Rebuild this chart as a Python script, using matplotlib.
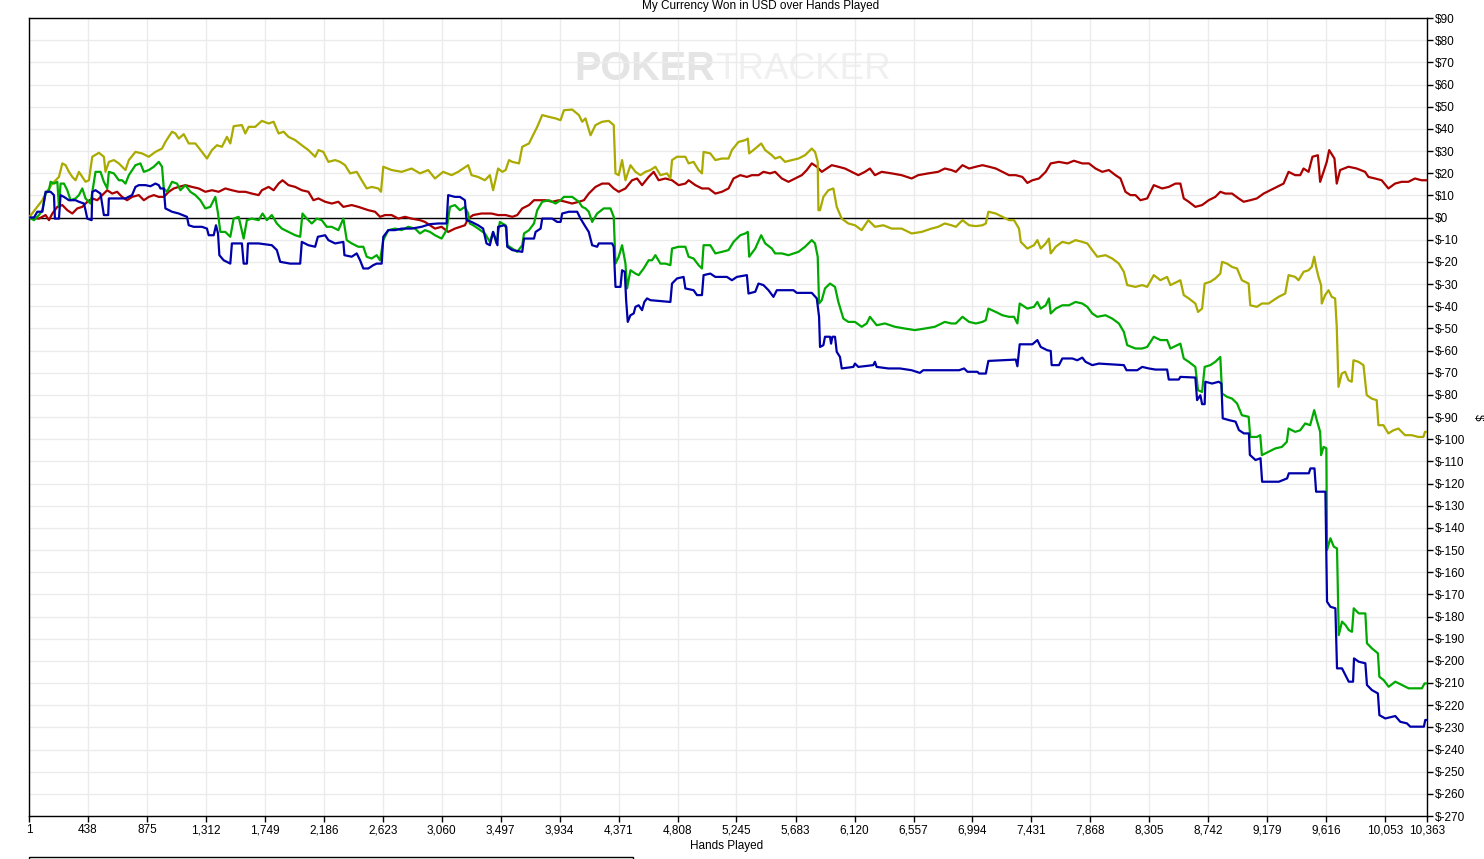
import matplotlib
matplotlib.use("Agg")
import matplotlib.pyplot as plt
from matplotlib.patches import Rectangle

# hands played / dollars won
red_hands = [1, 75, 124, 149, 174, 211, 248, 285, 322, 359, 396, 433, 470, 507, 544, 581, 618, 654, 691, 728,
             765, 815, 852, 889, 926, 963, 1000, 1037, 1074, 1111, 1160, 1209, 1259, 1308, 1357, 1407, 1456, 1505,
             1555, 1604, 1653, 1703, 1727, 1777, 1814, 1851, 1880, 1924, 1974, 2023, 2072, 2109, 2146, 2196, 2245,
             2294, 2331, 2393, 2442, 2516, 2566, 2603, 2640, 2689, 2738, 2788, 2837, 2899, 2936, 2973, 3010, 3059,
             3108, 3158, 3232, 3256, 3293, 3355, 3429, 3478, 3534, 3583, 3620, 3657, 3707, 3744, 3793, 3830, 3879,
             3929, 3978, 4027, 4077, 4114, 4150, 4200, 4249, 4298, 4335, 4372, 4422, 4471, 4508, 4545, 4594, 4631,
             4668, 4718, 4767, 4816, 4866, 4890, 4940, 4989, 5038, 5088, 5137, 5186, 5223, 5273, 5322, 5359, 5408,
             5445, 5494, 5531, 5581, 5630, 5679, 5729, 5766, 5803, 5840, 5877, 5914, 5951, 6000, 6049, 6099, 6148,
             6197, 6234, 6271, 6321, 6395, 6469, 6543, 6592, 6666, 6740, 6789, 6838, 6871, 6920, 6969, 7019, 7068,
             7117, 7167, 7216, 7265, 7315, 7364, 7401, 7438, 7487, 7537, 7574, 7635, 7697, 7746, 7808, 7857, 7906,
             7956, 8005, 8054, 8091, 8128, 8165, 8202, 8239, 8289, 8338, 8400, 8449, 8498, 8535, 8560, 8597, 8646,
             8696, 8745, 8794, 8831, 8868, 8918, 8967, 9004, 9053, 9102, 9152, 9201, 9250, 9300, 9337, 9386, 9423,
             9448, 9485, 9514, 9554, 9571, 9596, 9620, 9638, 9677, 9694, 9719, 9781, 9842, 9904, 9929, 9978, 10027,
             10077, 10126, 10175, 10225, 10274, 10323, 10363]
red_usd = [0, -0.5, 1.1, -1.2, 1.8, 4.8, 5.6, 3.3, 1.8, 4.1, 4.8, 7.1, 8.6, 7.8, 10.1, 12.3, 10.8, 11.6, 9.3, 7.8,
           9.3, 10.1, 7.8, 9.3, 10.1, 9.3, 9.3, 11.6, 13.1, 13.8, 14.6, 13.8, 13.1, 11.6, 12.3, 11.6, 13.1, 12.3,
           11.6, 11.6, 10.8, 10.1, 12.3, 13.8, 12.3, 15.3, 16.8, 14.6, 13.8, 12.3, 11.6, 7.8, 8.6, 7.1, 6.3,
           7.1, 4.8, 5.6, 4.8, 3.3, 2.6, 0.3, 1.1, 1.1, -0.5, 0.3, -0.5, -1.2, -2.0, -3.5, -5.0, -4.2,
           -6.5, -5.0, -3.5, -0.5, 1.1, 1.8, 1.8, 1.1, 1.1, 0.3, 1.1, 4.1, 5.6, 7.8, 7.8, 7.8, 7.1,
           7.8, 7.1, 6.3, 7.1, 7.8, 10.8, 13.8, 15.3, 15.3, 13.1, 11.6, 13.1, 16.8, 17.6, 14.6, 18.3, 20.6,
           16.8, 17.6, 16.8, 14.6, 15.3, 16.8, 14.6, 13.1, 13.1, 10.8, 11.6, 13.1, 17.6, 19.1, 18.3, 19.1, 19.1,
           20.6, 19.9, 20.6, 17.6, 16.1, 17.6, 19.1, 21.4, 24.4, 22.9, 20.6, 22.1, 23.6, 22.9, 22.1, 20.6, 19.1,
           20.6, 22.1, 19.1, 20.6, 19.9, 19.1, 17.6, 19.1, 19.9, 20.6, 22.1, 21.4, 20.6, 23.6, 22.1, 22.9, 23.6,
           22.9, 22.1, 20.6, 19.1, 19.1, 18.3, 15.6, 16.8, 17.6, 20.6, 24.4, 25.1, 24.4, 25.6, 24.4, 24.4, 22.1,
           20.6, 21.4, 19.1, 17.6, 11.6, 10.1, 10.1, 7.8, 8.6, 14.6, 13.1, 13.8, 15.3, 15.3, 8.6, 7.1, 4.8,
           5.6, 7.8, 9.3, 11.6, 10.8, 10.8, 8.6, 7.1, 7.8, 8.6, 10.8, 12.3, 13.8, 15.3, 20.6, 19.1, 19.1,
           22.1, 20.6, 27.4, 28.1, 16.1, 20.6, 25.1, 30.4, 26.6, 15.3, 21.4, 22.9, 22.1, 20.6, 18.3, 17.6, 16.8,
           13.1, 15.3, 16.1, 16.1, 17.6, 16.8, 16.8]

yellow_hands = [1, 100, 124, 174, 198, 223, 248, 272, 297, 322, 346, 371, 396, 420, 445, 470, 519, 556, 568, 593,
                630, 667, 716, 741, 790, 839, 889, 938, 987, 1012, 1061, 1086, 1111, 1148, 1185, 1234, 1283, 1320,
                1357, 1394, 1431, 1468, 1493, 1518, 1579, 1604, 1629, 1678, 1727, 1777, 1814, 1851, 1888, 1924,
                1974, 2023, 2072, 2122, 2146, 2183, 2220, 2270, 2307, 2344, 2381, 2430, 2467, 2504, 2541, 2590,
                2610, 2627, 2689, 2763, 2837, 2899, 2960, 3010, 3071, 3133, 3182, 3256, 3281, 3330, 3380, 3417,
                3441, 3478, 3509, 3534, 3559, 3583, 3633, 3657, 3707, 3731, 3768, 3805, 3855, 3904, 3941, 3966,
                4027, 4077, 4101, 4126, 4163, 4200, 4249, 4298, 4335, 4348, 4372, 4397, 4422, 4459, 4496, 4533,
                4570, 4607, 4644, 4681, 4730, 4755, 4767, 4804, 4866, 4890, 4927, 4964, 4989, 5001, 5051, 5088,
                5137, 5186, 5211, 5260, 5310, 5329, 5339, 5384, 5428, 5458, 5507, 5531, 5568, 5605, 5655, 5704,
                5753, 5803, 5827, 5847, 5852, 5864, 5889, 5926, 5963, 5988, 6025, 6074, 6123, 6173, 6222, 6271,
                6333, 6395, 6469, 6543, 6617, 6690, 6740, 6789, 6838, 6871, 6920, 6969, 7019, 7068, 7093, 7112,
                7167, 7216, 7265, 7302, 7339, 7352, 7401, 7450, 7475, 7500, 7537, 7561, 7574, 7611, 7660, 7709,
                7758, 7808, 7845, 7882, 7919, 7980, 8030, 8079, 8116, 8141, 8202, 8252, 8289, 8338, 8387, 8437,
                8461, 8511, 8535, 8560, 8597, 8646, 8666, 8696, 8715, 8757, 8794, 8831, 8844, 8881, 8918, 8955,
                8991, 9041, 9053, 9102, 9139, 9189, 9226, 9263, 9312, 9337, 9386, 9411, 9448, 9485, 9509, 9527,
                9541, 9559, 9578, 9583, 9608, 9633, 9657, 9682, 9694, 9707, 9731, 9756, 9781, 9805, 9818, 9855,
                9892, 9916, 9953, 9990, 10003, 10040, 10077, 10114, 10151, 10200, 10249, 10299, 10336, 10348, 10363]
yellow_usd = [0, 7.8, 10.8, 15.3, 16.8, 18.3, 24.4, 23.6, 20.6, 18.3, 16.8, 20.6, 18.3, 16.1, 16.8, 27.4, 29.2,
              27.4, 20.6, 25.1, 25.9, 24.4, 21.4, 25.9, 29.6, 28.9, 27.4, 29.6, 31.1, 34.1, 38.7, 37.9, 35.6,
              37.6, 33.4, 33.4, 29.6, 26.6, 30.4, 32.6, 31.9, 36.4, 33.4, 41.2, 41.7, 37.9, 40.9, 40.9, 43.6,
              42.4, 43.2, 37.9, 38.7, 36.4, 34.9, 32.6, 30.4, 27.4, 30.4, 29.6, 25.1, 25.9, 25.1, 23.6, 19.9,
              20.6, 16.8, 13.1, 13.8, 13.1, 11.6, 22.9, 21.4, 20.6, 22.1, 19.9, 21.4, 17.6, 20.6, 19.1, 20.6,
              23.6, 19.1, 18.3, 16.8, 19.1, 12.3, 22.1, 20.6, 21.4, 25.9, 25.1, 24.4, 31.9, 33.4, 36.4, 40.9,
              46.2, 45.4, 44.7, 43.9, 48.4, 48.7, 46.2, 43.2, 44.7, 37.1, 41.7, 43.2, 43.6, 41.7, 19.9, 19.1,
              25.9, 16.8, 23.6, 20.6, 19.1, 20.6, 21.4, 22.9, 19.1, 19.9, 17.6, 25.9, 27.4, 27.4, 24.4, 25.1,
              21.4, 19.9, 29.6, 28.9, 25.9, 26.6, 26.6, 30.4, 34.1, 34.9, 35.6, 28.9, 31.1, 33.4, 30.4, 28.1,
              26.6, 27.4, 25.1, 25.9, 26.6, 28.1, 31.1, 29.6, 25.1, 3.3, 3.3, 9.3, 12.3, 13.1, 4.8, -0.5, -2.7,
              -3.5, -5.7, -1.2, -4.2, -3.5, -5.0, -5.0, -7.2, -6.5, -5.0, -4.2, -2.7, -3.5, -4.2, -1.2, -3.5,
              -3.9, -3.5, -2.7, 2.6, 1.8, 0.3, -1.2, -1.2, -5.0, -11.0, -14.0, -12.5, -10.2, -14.0, -11.7, -9.5,
              -16.2, -13.2, -11.0, -11.7, -10.2, -11.0, -11.7, -14.7, -17.7, -17.0, -18.5, -20.8, -24.5, -30.5,
              -31.3, -30.5, -31.3, -26.0, -28.3, -26.8, -30.5, -29.0, -28.3, -35.0, -36.5, -38.8, -42.6, -41.1,
              -29.8, -29.0, -27.5, -25.3, -20.0, -20.8, -22.3, -23.0, -28.3, -29.8, -39.6, -40.3, -38.8, -38.8,
              -37.3, -35.8, -34.3, -26.0, -26.8, -28.3, -24.5, -23.8, -22.3, -17.7, -22.3, -26.8, -30.5, -38.8,
              -35.0, -32.8, -35.8, -36.5, -49.3, -76.4, -70.4, -69.6, -73.4, -74.1, -64.4, -65.1, -66.6, -80.1,
              -81.7, -82.4, -93.7, -93.7, -97.4, -96.0, -95.2, -98.2, -98.2, -99.0, -99.0, -96.7, -96.7]

green_hands = [1, 38, 75, 100, 124, 149, 161, 186, 211, 223, 235, 260, 285, 309, 346, 371, 396, 420, 457, 482,
               494, 531, 556, 581, 593, 630, 667, 691, 716, 741, 790, 827, 852, 889, 926, 963, 987, 1000, 1024,
               1061, 1098, 1123, 1160, 1197, 1234, 1271, 1308, 1345, 1382, 1402, 1419, 1456, 1493, 1518, 1555,
               1592, 1616, 1653, 1703, 1732, 1764, 1801, 1838, 1875, 1924, 1974, 2011, 2028, 2060, 2097, 2134,
               2171, 2208, 2245, 2294, 2331, 2356, 2393, 2442, 2479, 2504, 2541, 2578, 2603, 2627, 2664, 2714,
               2763, 2812, 2862, 2899, 2936, 2973, 3010, 3059, 3096, 3121, 3158, 3195, 3232, 3256, 3268, 3293,
               3330, 3380, 3417, 3441, 3466, 3491, 3509, 3534, 3546, 3583, 3620, 3657, 3670, 3707, 3744, 3768,
               3805, 3855, 3904, 3941, 3966, 4027, 4077, 4101, 4126, 4150, 4175, 4212, 4261, 4311, 4335, 4348,
               4372, 4397, 4422, 4434, 4459, 4496, 4520, 4557, 4594, 4619, 4644, 4681, 4718, 4755, 4767, 4816,
               4866, 4890, 4927, 4964, 4989, 5001, 5051, 5088, 5137, 5186, 5223, 5273, 5310, 5329, 5339, 5384,
               5428, 5458, 5507, 5531, 5581, 5630, 5704, 5753, 5803, 5827, 5847, 5857, 5877, 5901, 5938, 5975,
               6000, 6037, 6074, 6123, 6173, 6210, 6234, 6284, 6345, 6419, 6493, 6567, 6641, 6715, 6789, 6838,
               6871, 6920, 6969, 7019, 7068, 7093, 7112, 7167, 7216, 7265, 7302, 7327, 7344, 7401, 7450, 7475,
               7500, 7537, 7561, 7574, 7611, 7660, 7709, 7758, 7808, 7845, 7882, 7919, 7980, 8030, 8079, 8116,
               8141, 8202, 8252, 8289, 8338, 8387, 8437, 8461, 8511, 8535, 8560, 8597, 8646, 8666, 8696, 8715,
               8757, 8794, 8831, 8844, 8881, 8918, 8955, 8991, 9041, 9053, 9102, 9127, 9139, 9189, 9238, 9287,
               9324, 9337, 9386, 9423, 9460, 9497, 9527, 9546, 9571, 9578, 9596, 9617, 9622, 9647, 9672, 9696,
               9709, 9733, 9758, 9783, 9807, 9820, 9857, 9906, 9918, 9955, 9999, 10010, 10042, 10079, 10128,
               10177, 10227, 10276, 10325, 10345, 10363]
green_usd = [0, -1.2, 1.1, 3.3, 10.8, 12.3, 16.1, 15.3, 16.1, 4.8, 15.3, 15.3, 12.3, 7.8, 8.6, 10.1, 13.1, 8.6,
             6.3, 16.1, 20.6, 20.6, 16.1, 13.1, 20.6, 19.9, 16.8, 16.8, 15.3, 19.1, 23.6, 24.4, 20.6, 21.4, 22.9,
             25.1, 22.9, 13.1, 11.6, 16.1, 15.3, 12.3, 14.6, 11.6, 10.1, 7.8, 4.1, 4.8, 9.3, 1.8, -6.5, -6.5,
             -8.7, -0.5, 0.3, -9.5, -1.2, -0.5, -1.2, 1.8, -1.2, 1.1, -2.7, -5.0, -6.5, -8.0, -8.7, 1.8, -0.5,
             -2.7, -0.5, -1.2, -4.2, -4.2, -5.7, -0.5, -10.2, -11.7, -13.2, -13.2, -17.7, -18.5, -17.0, -19.3,
             -10.2, -5.7, -5.0, -5.7, -4.2, -5.0, -7.2, -5.7, -6.5, -8.0, -9.5, -5.7, 4.8, 5.6, 3.3, 4.8, 1.8,
             -2.7, -3.5, -5.0, -7.2, -11.0, -6.5, -11.7, -2.0, -2.7, -3.5, -12.5, -14.0, -15.5, -12.5, -7.2,
             -5.7, -2.7, 3.3, 7.1, 7.8, 6.3, 7.8, 9.3, 9.3, 7.1, 4.8, 4.1, 2.6, -2.0, 1.8, 4.1, 4.1, 0.3,
             -20.8, -17.7, -12.5, -20.8, -32.0, -23.8, -25.3, -26.0, -23.0, -19.3, -19.3, -17.0, -20.8, -20.8,
             -21.5, -14.0, -13.2, -13.2, -17.7, -18.5, -21.5, -23.0, -12.5, -12.5, -16.2, -15.5, -14.7, -11.0,
             -8.0, -7.2, -6.5, -17.7, -14.0, -8.0, -11.7, -14.0, -16.2, -16.2, -17.0, -15.5, -13.2, -10.2,
             -11.7, -17.7, -38.8, -37.3, -32.0, -29.8, -31.3, -38.1, -45.6, -47.1, -47.1, -49.3, -47.8, -44.8,
             -48.6, -47.8, -49.3, -50.1, -50.8, -50.1, -49.3, -47.1, -47.8, -47.8, -44.8, -47.1, -47.8, -47.1,
             -46.3, -41.1, -42.6, -44.1, -44.8, -44.8, -47.8, -38.8, -41.1, -40.3, -38.1, -41.1, -39.6, -36.5,
             -43.3, -41.1, -39.6, -39.6, -38.1, -38.8, -40.3, -43.3, -44.8, -44.1, -45.6, -47.8, -51.6, -57.6,
             -59.1, -59.1, -58.4, -53.8, -55.3, -55.3, -59.1, -57.6, -56.9, -63.6, -65.1, -67.4, -77.9, -78.7,
             -67.4, -66.6, -65.1, -62.9, -79.4, -80.9, -81.7, -83.9, -89.2, -89.9, -99.0, -99.0, -98.2, -107.2,
             -105.7, -104.2, -103.5, -101.2, -95.2, -96.7, -96.0, -92.9, -93.7, -86.9, -91.4, -96.7, -107.2,
             -103.5, -104.1, -150.0, -144.7, -148.5, -149.3, -188.4, -182.3, -183.8, -186.1, -186.9, -176.3,
             -178.6, -178.6, -192.1, -194.4, -196.6, -207.2, -208.7, -211.7, -209.4, -210.9, -212.4, -212.4,
             -212.4, -210.2, -210.2]

blue_hands = [1, 38, 63, 100, 124, 161, 186, 193, 223, 235, 260, 297, 346, 371, 408, 420, 433, 465, 470, 494,
              531, 556, 588, 593, 642, 716, 765, 790, 815, 864, 901, 938, 963, 975, 1000, 1012, 1061, 1111, 1172,
              1185, 1222, 1283, 1320, 1333, 1370, 1387, 1402, 1412, 1444, 1493, 1505, 1579, 1592, 1616, 1624,
              1703, 1801, 1838, 1863, 1937, 2011, 2023, 2072, 2122, 2142, 2196, 2220, 2270, 2331, 2339, 2393,
              2430, 2455, 2479, 2516, 2553, 2578, 2615, 2627, 2664, 2714, 2763, 2837, 2911, 2973, 3034, 3096,
              3108, 3158, 3195, 3232, 3244, 3281, 3330, 3367, 3392, 3417, 3441, 3473, 3478, 3522, 3539, 3546,
              3583, 3657, 3670, 3744, 3756, 3793, 3805, 3879, 3916, 3941, 3953, 4003, 4064, 4089, 4126, 4150,
              4175, 4212, 4224, 4323, 4335, 4348, 4385, 4397, 4417, 4427, 4439, 4459, 4483, 4496, 4520, 4545,
              4562, 4582, 4607, 4755, 4767, 4804, 4853, 4866, 4927, 4952, 4989, 5001, 5051, 5088, 5174, 5211,
              5248, 5322, 5334, 5384, 5408, 5445, 5482, 5519, 5544, 5667, 5692, 5803, 5840, 5857, 5864, 5889,
              5901, 5938, 5946, 5956, 5975, 5988, 6012, 6025, 6111, 6123, 6148, 6259, 6271, 6284, 6370, 6456,
              6543, 6604, 6629, 6895, 6932, 6957, 7031, 7043, 7093, 7112, 7216, 7315, 7327, 7344, 7438, 7475,
              7500, 7549, 7574, 7581, 7635, 7660, 7734, 7771, 7808, 7832, 7882, 7931, 8005, 8116, 8136, 8215,
              8252, 8301, 8350, 8437, 8449, 8523, 8535, 8646, 8659, 8683, 8696, 8715, 8720, 8770, 8819, 8839,
              8849, 8895, 8944, 8969, 9006, 9043, 9050, 9092, 9129, 9141, 9265, 9326, 9339, 9487, 9499, 9529,
              9541, 9610, 9622, 9647, 9684, 9696, 9733, 9758, 9783, 9815, 9822, 9857, 9906, 9918, 9955, 9999,
              10010, 10054, 10128, 10165, 10214, 10239, 10340, 10350, 10363]
blue_usd = [0, 0, 2.6, 2.6, 11.6, 11.6, 10.1, -0.5, -0.5, 10.1, 9.3, 7.8, 7.8, 7.1, 6.3, 3.3, -0.5, -1.2, 11.6,
            12.3, 10.8, 1.1, 1.1, 8.6, 8.6, 8.6, 10.1, 13.8, 14.6, 14.6, 14.1, 15.3, 14.6, 13.1, 13.1, 4.1, 2.6,
            1.8, 0.3, -3.5, -4.2, -4.2, -5.0, -8.0, -8.0, -3.5, -7.2, -17.0, -19.3, -20.8, -11.7, -11.7, -20.8,
            -20.8, -11.7, -11.7, -12.5, -14.7, -20.0, -20.8, -20.8, -11.0, -12.5, -13.2, -8.7, -8.0, -10.2,
            -11.7, -11.0, -17.0, -17.7, -16.2, -19.3, -23.0, -23.0, -21.5, -20.8, -20.8, -8.7, -5.7, -5.7,
            -5.0, -5.0, -4.2, -3.0, -2.7, -2.7, 10.1, 9.3, 9.3, 7.8, -1.2, -2.0, -3.5, -5.0, -11.7, -12.5,
            -6.5, -12.5, -4.2, -3.5, -4.2, -13.2, -14.7, -15.5, -9.5, -9.5, -6.5, -5.0, -0.5, -0.5, -2.0,
            -2.0, 1.8, 2.6, 2.6, -0.5, -4.2, -6.5, -12.5, -13.2, -11.7, -11.7, -13.2, -31.3, -31.3, -23.8,
            -24.5, -37.3, -47.1, -44.1, -43.3, -40.3, -39.6, -41.8, -38.1, -36.5, -37.3, -38.1, -29.8, -27.5,
            -26.8, -32.0, -32.8, -35.0, -35.0, -26.0, -25.3, -26.8, -26.8, -28.3, -26.8, -26.0, -34.3, -33.5,
            -29.8, -30.5, -32.8, -35.8, -32.8, -32.8, -34.0, -34.0, -36.5, -44.8, -58.4, -57.6, -53.8, -53.8,
            -56.9, -53.8, -53.8, -60.6, -62.9, -68.1, -67.4, -65.9, -67.4, -66.6, -65.1, -67.4, -68.1, -68.1,
            -68.9, -70.1, -68.9, -68.9, -68.1, -69.6, -69.6, -70.4, -70.4, -64.7, -64.4, -64.1, -67.1, -57.2,
            -57.2, -55.3, -58.4, -59.9, -60.2, -66.6, -66.6, -63.6, -63.6, -64.4, -63.2, -65.1, -66.6, -65.9,
            -66.2, -66.6, -68.9, -68.9, -67.4, -68.1, -68.6, -68.6, -73.1, -73.1, -71.9, -72.2, -82.4, -80.2,
            -84.2, -84.2, -74.1, -74.9, -74.1, -74.9, -90.6, -91.4, -92.1, -95.9, -97.4, -97.4, -107.1, -109.4,
            -108.6, -119.2, -119.2, -117.7, -115.4, -115.4, -113.2, -113.2, -123.7, -123.7, -173.3, -175.6,
            -176.3, -203.4, -203.4, -206.4, -209.4, -209.4, -198.9, -200.4, -201.1, -210.9, -213.2, -214.7,
            -224.5, -226.0, -224.9, -227.5, -228.2, -229.7, -229.7, -226.7, -226.7]

x_ticks = [1, 438, 875, 1312, 1749, 2186, 2623, 3060, 3497, 3934, 4371, 4808, 5245, 5683, 6120, 6557, 6994,
           7431, 7868, 8305, 8742, 9179, 9616, 10053, 10363]
y_ticks = list(range(-270, 100, 10))

label_font = ["Liberation Sans Narrow", "Liberation Sans", "DejaVu Sans"]
plt.rcParams["font.family"] = label_font

fig = plt.figure(figsize=(14.84, 8.59), dpi=100)
ax = fig.add_axes([29 / 1484, 1 - 816 / 859, 1398 / 1484, 798 / 859])

ax.grid(True, color="#ebebeb", linewidth=1)
ax.set_axisbelow(True)
ax.axhline(0, color="black", linewidth=1, zorder=2)

ax.plot(red_hands, red_usd, color="#aa0000", linewidth=1.6, zorder=3)
ax.plot(yellow_hands, yellow_usd, color="#aaaa00", linewidth=1.6, zorder=3)
ax.plot(green_hands, green_usd, color="#00aa00", linewidth=1.6, zorder=3)
ax.plot(blue_hands, blue_usd, color="#0000aa", linewidth=1.6, zorder=3)

ax.set_xlim(1, 10363)
ax.set_ylim(-270, 90)
ax.set_xticks(x_ticks)
ax.set_xticklabels([f"{t:,}" for t in x_ticks], fontsize=8.5)
ax.set_yticks(y_ticks)
ax.set_yticklabels([f"${t}" for t in y_ticks], fontsize=8.5)
ax.yaxis.tick_right()
ax.tick_params(axis="both", length=4, width=1, color="black", pad=2)
for s in ax.spines.values():
    s.set_color("black")
    s.set_linewidth(1)

# watermark
wm_x = (715 - 29) / 1398
wm_y = 1 - 51 / 798
ax.text(wm_x, wm_y, "POKER", transform=ax.transAxes, fontsize=28.5, fontweight="bold",
        color="#e4e4e4", ha="right", va="center", zorder=0.4)
ax.text(wm_x, wm_y, "TRACKER", transform=ax.transAxes, fontsize=26.5,
        color="#f0f0f0", ha="left", va="center", zorder=0.4)

fig.text(761 / 1484, 1.0, "My Currency Won in USD over Hands Played", ha="center", va="top", fontsize=8.5)
fig.text(727 / 1484, 1 - 846 / 859, "Hands Played", ha="center", va="center", fontsize=8.5)
fig.text(1478 / 1484, 1 - 417 / 859, "$", ha="center", va="center", rotation=270, fontsize=8.5)

# legend frame cut off at bottom edge
fig.patches.append(Rectangle((29 / 1484, -0.02), 604 / 1484, 0.02 + 2 / 859, transform=fig.transFigure,
                             fill=False, edgecolor="black", linewidth=1))

fig.savefig("out.png", dpi=100)
